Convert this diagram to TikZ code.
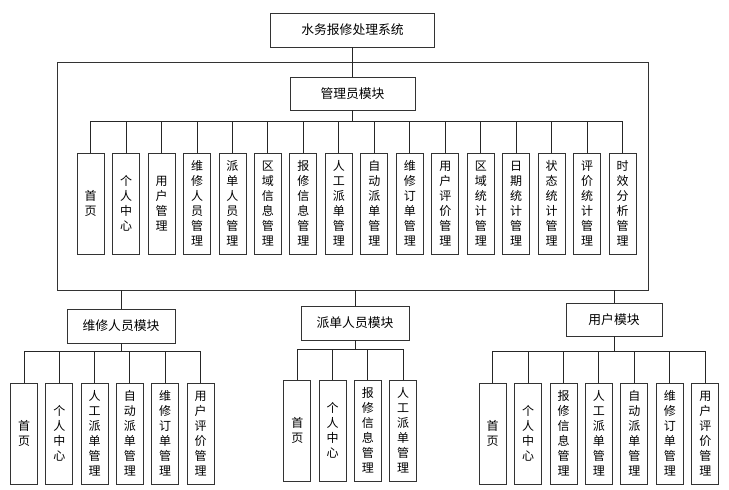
\documentclass[tikz,border=0pt]{standalone}
\usepackage{fontspec}
\setmainfont{Noto Sans CJK SC}
\usetikzlibrary{positioning}

\tikzset{
  box/.style={draw=black!80, line width=0.9pt, fill=white, inner sep=0pt, font=\fontsize{12.8}{15}\selectfont},
  leaf/.style={box, minimum width=27pt, minimum height=101pt, align=center, font=\fontsize{12}{15}\selectfont},
  link/.style={line width=1pt, draw=black!85},
}

\begin{document}
\begin{tikzpicture}[x=1pt, y=1pt, node distance=35.47pt]
\useasboundingbox (0,0) rectangle (729,490);
% system and admin area
\node[box, minimum width=164pt, minimum height=34pt] (system) at (352.5,460) {水务报修处理系统};
\node[draw=black!80, line width=0.9pt, minimum width=591pt, minimum height=228pt, inner sep=0pt] (adminarea) at (352.5,314) {};
\node[box, minimum width=125pt, minimum height=33pt] (admin) at (352.5,396.5) {管理员模块};
\node[leaf] (a1) at (90.6,286.5) {首\\页};
\node[leaf, right of=a1] (a2) {个\\人\\中\\心};
\node[leaf, right of=a2] (a3) {用\\户\\管\\理};
\node[leaf, right of=a3] (a4) {维\\修\\人\\员\\管\\理};
\node[leaf, right of=a4] (a5) {派\\单\\人\\员\\管\\理};
\node[leaf, right of=a5] (a6) {区\\域\\信\\息\\管\\理};
\node[leaf, right of=a6] (a7) {报\\修\\信\\息\\管\\理};
\node[leaf, right of=a7] (a8) {人\\工\\派\\单\\管\\理};
\node[leaf, right of=a8] (a9) {自\\动\\派\\单\\管\\理};
\node[leaf, right of=a9] (a10) {维\\修\\订\\单\\管\\理};
\node[leaf, right of=a10] (a11) {用\\户\\评\\价\\管\\理};
\node[leaf, right of=a11] (a12) {区\\域\\统\\计\\管\\理};
\node[leaf, right of=a12] (a13) {日\\期\\统\\计\\管\\理};
\node[leaf, right of=a13] (a14) {状\\态\\统\\计\\管\\理};
\node[leaf, right of=a14] (a15) {评\\价\\统\\计\\管\\理};
\node[leaf, right of=a15] (a16) {时\\效\\分\\析\\管\\理};
% three role modules
\node[box, minimum width=108pt, minimum height=34pt] (repair) at (121,164) {维修人员模块};
\node[box, minimum width=108pt, minimum height=34pt] (dispatch) at (355,167) {派单人员模块};
\node[box, minimum width=96pt, minimum height=33pt] (user) at (614,170.5) {用户模块};
\node[leaf] (r1) at (24,56.5) {首\\页};
\node[leaf, right of=r1, node distance=35.3pt] (r2) {个\\人\\中\\心};
\node[leaf, right of=r2, node distance=35.3pt] (r3) {人\\工\\派\\单\\管\\理};
\node[leaf, right of=r3, node distance=35.3pt] (r4) {自\\动\\派\\单\\管\\理};
\node[leaf, right of=r4, node distance=35.3pt] (r5) {维\\修\\订\\单\\管\\理};
\node[leaf, right of=r5, node distance=35.3pt] (r6) {用\\户\\评\\价\\管\\理};
\node[leaf] (d1) at (297.3,59.5) {首\\页};
\node[leaf, right of=d1, node distance=35.3pt] (d2) {个\\人\\中\\心};
\node[leaf, right of=d2, node distance=35.3pt] (d3) {报\\修\\信\\息\\管\\理};
\node[leaf, right of=d3, node distance=35.3pt] (d4) {人\\工\\派\\单\\管\\理};
\node[leaf] (u1) at (492.7,56.5) {首\\页};
\node[leaf, right of=u1, node distance=35.43pt] (u2) {个\\人\\中\\心};
\node[leaf, right of=u2, node distance=35.43pt] (u3) {报\\修\\信\\息\\管\\理};
\node[leaf, right of=u3, node distance=35.43pt] (u4) {人\\工\\派\\单\\管\\理};
\node[leaf, right of=u4, node distance=35.43pt] (u5) {自\\动\\派\\单\\管\\理};
\node[leaf, right of=u5, node distance=35.43pt] (u6) {维\\修\\订\\单\\管\\理};
\node[leaf, right of=u6, node distance=35.43pt] (u7) {用\\户\\评\\价\\管\\理};
% connectors
\draw[link] (system) -- (admin);
\draw[link] (admin.south) -- ++(0,-11) -| (a1.north);
\draw[link] (admin.south) -- ++(0,-11) -| (a2.north);
\draw[link] (admin.south) -- ++(0,-11) -| (a3.north);
\draw[link] (admin.south) -- ++(0,-11) -| (a4.north);
\draw[link] (admin.south) -- ++(0,-11) -| (a5.north);
\draw[link] (admin.south) -- ++(0,-11) -| (a6.north);
\draw[link] (admin.south) -- ++(0,-11) -| (a7.north);
\draw[link] (admin.south) -- ++(0,-11) -| (a8.north);
\draw[link] (admin.south) -- ++(0,-11) -| (a9.north);
\draw[link] (admin.south) -- ++(0,-11) -| (a10.north);
\draw[link] (admin.south) -- ++(0,-11) -| (a11.north);
\draw[link] (admin.south) -- ++(0,-11) -| (a12.north);
\draw[link] (admin.south) -- ++(0,-11) -| (a13.north);
\draw[link] (admin.south) -- ++(0,-11) -| (a14.north);
\draw[link] (admin.south) -- ++(0,-11) -| (a15.north);
\draw[link] (admin.south) -- ++(0,-11) -| (a16.north);
\draw[link] (adminarea.south -| repair.north) -- (repair.north);
\draw[link] (adminarea.south -| dispatch.north) -- (dispatch.north);
\draw[link] (adminarea.south -| user.north) -- (user.north);
\draw[link] (repair.south) -- ++(0,-8) -| (r1.north);
\draw[link] (repair.south) -- ++(0,-8) -| (r2.north);
\draw[link] (repair.south) -- ++(0,-8) -| (r3.north);
\draw[link] (repair.south) -- ++(0,-8) -| (r4.north);
\draw[link] (repair.south) -- ++(0,-8) -| (r5.north);
\draw[link] (repair.south) -- ++(0,-8) -| (r6.north);
\draw[link] (dispatch.south) -- ++(0,-9) -| (d1.north);
\draw[link] (dispatch.south) -- ++(0,-9) -| (d2.north);
\draw[link] (dispatch.south) -- ++(0,-9) -| (d3.north);
\draw[link] (dispatch.south) -- ++(0,-9) -| (d4.north);
\draw[link] (user.south) -- ++(0,-15) -| (u1.north);
\draw[link] (user.south) -- ++(0,-15) -| (u2.north);
\draw[link] (user.south) -- ++(0,-15) -| (u3.north);
\draw[link] (user.south) -- ++(0,-15) -| (u4.north);
\draw[link] (user.south) -- ++(0,-15) -| (u5.north);
\draw[link] (user.south) -- ++(0,-15) -| (u6.north);
\draw[link] (user.south) -- ++(0,-15) -| (u7.north);
\end{tikzpicture}
\end{document}
